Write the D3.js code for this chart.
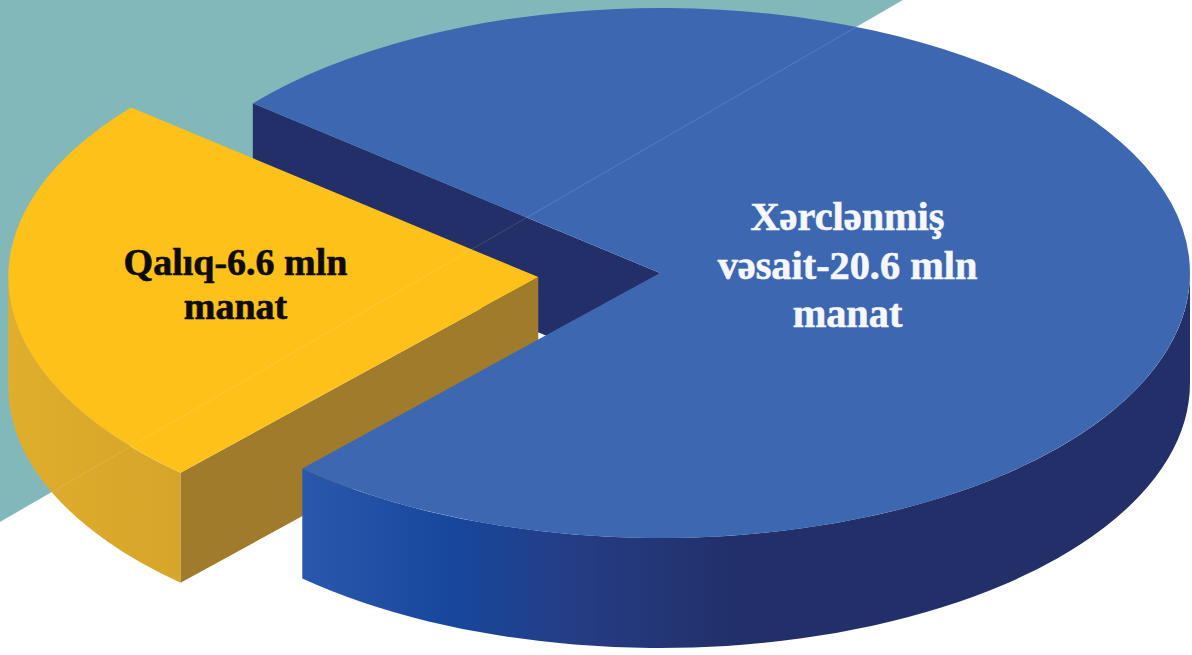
<!DOCTYPE html>
<html>
<head>
<meta charset="utf-8">
<script src="https://cdn.jsdelivr.net/npm/d3@7"></script>
<style>html,body{margin:0;padding:0;background:#fff}svg{display:block}</style>
</head>
<body>
<svg id="c" width="1192" height="655"></svg>
<script>
// Data
const names = ["Xərclənmiş vəsait", "Qalıq"];
const values = [20.6, 6.6];
const labels = [["Xərclənmiş", "vəsait-20.6 mln", "manat"], ["Qalıq-6.6 mln", "manat"]];
const topColors = ["#3d68b1", "#fec119"];
const wallColors = ["#222f68", "#a07b2c"];

// Layout
const W = 1192, H = 655;
const cx = 660, cy = 273, R = 530, tilt = 0.5, depth = 110, explode = 122;
const rad = d => d * Math.PI / 180;
const startDeg = 309.8;

const svg = d3.select("#c");
const defs = svg.append("defs");

const blueGrad = defs.append("linearGradient").attr("id", "blueSide")
  .attr("gradientUnits", "userSpaceOnUse").attr("x1", 300).attr("x2", 1190).attr("y1", 0).attr("y2", 0);
[[0, "#2b58ac"], [0.17, "#16479d"], [0.3, "#253d86"], [0.5, "#222f68"], [1, "#222f68"]]
  .forEach(s => blueGrad.append("stop").attr("offset", s[0]).attr("stop-color", s[1]));
const yelGrad = defs.append("linearGradient").attr("id", "yelSide")
  .attr("gradientUnits", "userSpaceOnUse").attr("x1", 8).attr("x2", 180).attr("y1", 0).attr("y2", 0);
[[0, "#dfae2b"], [1, "#d6a52b"]]
  .forEach(s => yelGrad.append("stop").attr("offset", s[0]).attr("stop-color", s[1]));

// Background diagonal
svg.append("polygon").attr("points", [[0,0],[903,0],[0,522]].map(p => p.join(",")).join(" ")).attr("fill", "#82b8ba");

const pie = d3.pie().sort(null).startAngle(rad(startDeg)).endAngle(rad(startDeg + 360));
const slices = pie(values);

function centerOf(s) {
  if (s.index === 0) return [cx, cy];
  const mid = (s.startAngle + s.endAngle) / 2;
  return [cx + explode * Math.sin(mid), cy - explode * Math.cos(mid) * tilt];
}
function pt(s, a, dz = 0) {
  const c = centerOf(s);
  return [c[0] + R * Math.sin(a), c[1] - R * Math.cos(a) * tilt + dz];
}
function wallPath(s, a) {
  const c = centerOf(s), p = pt(s, a);
  return d3.line()([c, p, [p[0], p[1] + depth], [c[0], c[1] + depth]]) + "Z";
}
function sidePath(s, a0, a1) {
  const p0 = pt(s, a0), p1 = pt(s, a1), q1 = pt(s, a1, depth), q0 = pt(s, a0, depth);
  const ry = R * tilt;
  return `M${p0}A${R},${ry} 0 0 1 ${p1}L${q1}A${R},${ry} 0 0 0 ${q0}Z`;
}
const arc = d3.arc().innerRadius(0).outerRadius(R);
function drawTop(s) {
  const c = centerOf(s);
  svg.append("path").attr("d", arc(s))
    .attr("transform", `translate(${c[0]},${c[1]}) scale(1,${tilt})`)
    .attr("fill", topColors[s.index]);
}

const blue = slices[0], yellow = slices[1];

// Blue inner wall (behind the yellow slice)
svg.append("path").attr("d", wallPath(blue, blue.startAngle)).attr("fill", wallColors[0]);

// Yellow slice
svg.append("path").attr("d", sidePath(yellow, yellow.startAngle, rad(270))).attr("fill", "url(#yelSide)");
svg.append("path").attr("d", wallPath(yellow, yellow.startAngle)).attr("fill", wallColors[1]);
drawTop(yellow);

// Blue slice
svg.append("path").attr("d", sidePath(blue, rad(450), blue.endAngle)).attr("fill", "url(#blueSide)");
drawTop(blue);

// Faint hairline continuing the diagonal
svg.append("line").attr("x1", 903).attr("y1", 0).attr("x2", 0).attr("y2", 522)
  .attr("stroke", "#fff").attr("stroke-opacity", 0.2).attr("stroke-width", 0.7);

// Labels
const labelPos = [
  {x: 847.5, y: 230, dy: 48.5, size: 40.3, fill: "#f5f7fc"},
  {x: 235.5, y: 275, dy: 44, size: 38, fill: "#0d0b05"}
];
labels.forEach((lines, i) => {
  const l = labelPos[i];
  svg.append("text").attr("text-anchor", "middle")
    .attr("font-family", "'Liberation Serif', serif").attr("font-weight", "bold")
    .attr("font-size", l.size).attr("fill", l.fill)
    .attr("stroke", l.fill).attr("stroke-width", 0.6)
    .selectAll("tspan").data(lines).join("tspan")
    .attr("x", l.x).attr("y", (d, j) => l.y + j * l.dy).text(d => d);
});
</script>
</body>
</html>
